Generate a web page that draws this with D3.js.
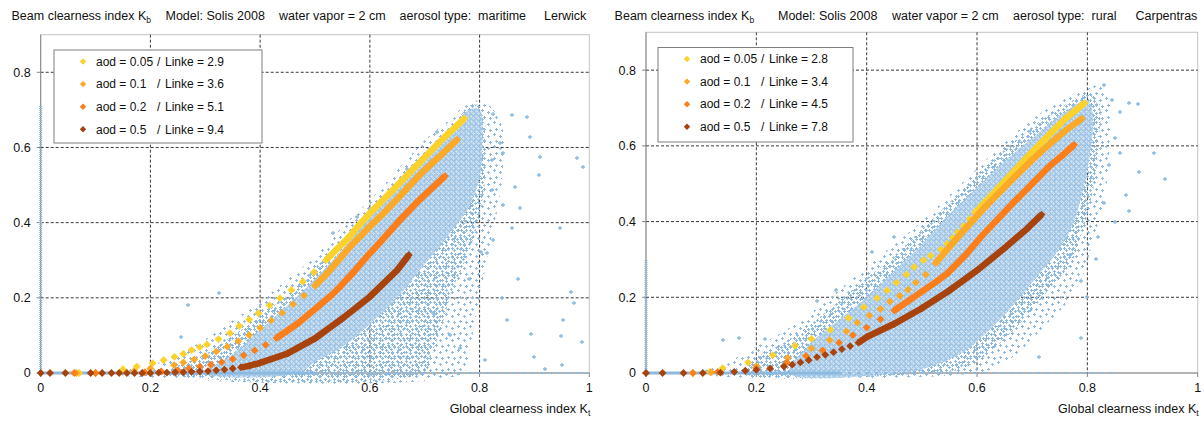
<!DOCTYPE html>
<html lang="en">
<head>
<meta charset="UTF-8">
<title>Beam clearness index vs global clearness index</title>
<script src="https://d3js.org/d3.v7.min.js"></script>
<style>
  body { margin: 0; background: #fff; }
  svg text { font-family: "Liberation Sans", Arial, sans-serif; fill: #111; white-space: pre; }
</style>
</head>
<body>
<svg id="chart" width="1204" height="423"></svg>
<script>
// ---- data ----
const ktTicks = [0, 0.2, 0.4, 0.6, 0.8, 1];
const kbTicks = [0, 0.2, 0.4, 0.6, 0.8];
const aodLabels = ["aod = 0.05", "aod = 0.1", "aod = 0.2", "aod = 0.5"];
const seriesColors = ["#fcd12a", "#fba927", "#fb7e1b", "#a8430d"];

const lerwickTitle = ["Model: Solis 2008", "water vapor = 2 cm", "aerosol type:  maritime", "Lerwick"];
const lerwickLinke = ["Linke = 2.9", "Linke = 3.6", "Linke = 5.1", "Linke = 9.4"];
const carpentrasTitle = ["Model: Solis 2008", "water vapor = 2 cm", "aerosol type:  rural", "Carpentras"];
const carpentrasLinke = ["Linke = 2.8", "Linke = 3.4", "Linke = 4.5", "Linke = 7.8"];

// model curves [Kt, Kb]
const lerwickAod005 = [[0.07,0],[0.15,0.01],[0.175,0.017],[0.204,0.026],[0.224,0.034],[0.244,0.043],[0.26,0.051],[0.275,0.061],[0.29,0.069],[0.303,0.076],[0.324,0.09],[0.345,0.106],[0.362,0.125],[0.38,0.142],[0.397,0.159],[0.417,0.18],[0.436,0.199],[0.457,0.221],[0.478,0.243],[0.498,0.268],[0.52,0.3],[0.54,0.33],[0.56,0.358],[0.58,0.393],[0.6,0.425],[0.62,0.455],[0.64,0.484],[0.66,0.514],[0.68,0.544],[0.7,0.574],[0.72,0.604],[0.74,0.633],[0.76,0.66],[0.772,0.677]];
const lerwickAod01 = [[0.065,0],[0.1,0],[0.17,0.005],[0.2,0.012],[0.243,0.021],[0.26,0.028],[0.28,0.036],[0.3,0.045],[0.32,0.057],[0.34,0.07],[0.36,0.085],[0.38,0.101],[0.4,0.12],[0.42,0.14],[0.44,0.16],[0.46,0.183],[0.48,0.206],[0.5,0.232],[0.52,0.262],[0.54,0.295],[0.564,0.336],[0.58,0.36],[0.6,0.39],[0.625,0.425],[0.65,0.463],[0.685,0.518],[0.7,0.54],[0.73,0.58],[0.759,0.621]];
const lerwickAod02 = [[0.061,0],[0.1,0],[0.19,0.002],[0.22,0.004],[0.25,0.007],[0.27,0.012],[0.29,0.017],[0.31,0.022],[0.33,0.029],[0.35,0.037],[0.37,0.047],[0.39,0.06],[0.41,0.075],[0.43,0.093],[0.45,0.113],[0.47,0.133],[0.49,0.158],[0.51,0.182],[0.53,0.207],[0.546,0.23],[0.57,0.268],[0.594,0.309],[0.62,0.35],[0.655,0.407],[0.69,0.46],[0.737,0.524]];
const lerwickAod05 = [[0,0],[0.017,0],[0.045,0],[0.091,0],[0.112,0],[0.129,0],[0.143,0],[0.157,0],[0.171,0],[0.185,0],[0.2,0],[0.215,0.001],[0.23,0.001],[0.245,0.002],[0.26,0.002],[0.275,0.003],[0.29,0.004],[0.305,0.005],[0.32,0.007],[0.335,0.009],[0.35,0.012],[0.365,0.015],[0.38,0.019],[0.4,0.027],[0.45,0.052],[0.5,0.092],[0.55,0.145],[0.6,0.203],[0.65,0.274],[0.671,0.314]];

const carpentrasAod005 = [[0.085,0],[0.116,0.003],[0.139,0.013],[0.185,0.028],[0.23,0.047],[0.27,0.072],[0.3,0.09],[0.334,0.114],[0.367,0.145],[0.395,0.174],[0.419,0.198],[0.437,0.218],[0.454,0.239],[0.472,0.26],[0.486,0.28],[0.503,0.298],[0.516,0.31],[0.535,0.326],[0.546,0.341],[0.556,0.357],[0.565,0.372],[0.576,0.388],[0.587,0.407],[0.596,0.423],[0.63,0.475],[0.67,0.538],[0.7,0.584],[0.731,0.63],[0.76,0.672],[0.795,0.713]];
const carpentrasAod01 = [[0.118,0.002],[0.2,0.018],[0.257,0.04],[0.3,0.065],[0.333,0.087],[0.363,0.11],[0.383,0.133],[0.405,0.152],[0.425,0.169],[0.442,0.189],[0.46,0.204],[0.475,0.22],[0.489,0.239],[0.507,0.26],[0.525,0.29],[0.547,0.328],[0.575,0.375],[0.608,0.428],[0.64,0.476],[0.67,0.52],[0.7,0.563],[0.731,0.604],[0.76,0.64],[0.79,0.672]];
const carpentrasAod02 = [[0.085,0],[0.13,0.003],[0.2,0.012],[0.255,0.028],[0.29,0.045],[0.32,0.06],[0.35,0.08],[0.375,0.1],[0.4,0.12],[0.425,0.142],[0.45,0.165],[0.475,0.19],[0.5,0.215],[0.525,0.24],[0.547,0.264],[0.58,0.313],[0.608,0.361],[0.64,0.41],[0.67,0.456],[0.7,0.5],[0.731,0.546],[0.755,0.575],[0.776,0.603]];
const carpentrasAod05 = [[0,0],[0.03,0],[0.068,0],[0.103,0],[0.135,0.001],[0.16,0.003],[0.18,0.006],[0.2,0.008],[0.225,0.012],[0.25,0.017],[0.265,0.022],[0.28,0.028],[0.295,0.034],[0.31,0.042],[0.325,0.048],[0.34,0.055],[0.355,0.063],[0.37,0.071],[0.385,0.08],[0.4,0.095],[0.45,0.13],[0.5,0.171],[0.55,0.218],[0.6,0.271],[0.65,0.33],[0.69,0.38],[0.717,0.4185]];

// Kt value from which the markers merge into a solid band
const lerwickSolidFrom = [0.5, 0.5, 0.42, 0.36];
const carpentrasSolidFrom = [0.59, 0.52, 0.45, 0.38];

// measured cloud outlines [Kt, Kb]: sparse fringe, medium band, dense core
const lerwickCloudSparse = [[0.12,0],[0.2,0.02],[0.25,0.05],[0.3,0.09],[0.35,0.14],[0.4,0.19],[0.45,0.25],[0.5,0.31],[0.55,0.39],[0.6,0.46],[0.65,0.54],[0.7,0.62],[0.75,0.68],[0.78,0.72],[0.81,0.72],[0.84,0.66],[0.84,0.5],[0.82,0.35],[0.8,0.2],[0.78,0.05],[0.77,0]];
const lerwickCloudMid = [[0.22,0],[0.25,0.02],[0.3,0.05],[0.35,0.1],[0.4,0.15],[0.45,0.21],[0.5,0.28],[0.55,0.35],[0.6,0.43],[0.65,0.5],[0.7,0.58],[0.75,0.65],[0.78,0.71],[0.8,0.71],[0.81,0.64],[0.81,0.52],[0.8,0.42],[0.78,0.32],[0.75,0.22],[0.73,0.12],[0.71,0.04],[0.7,0]];
const lerwickCloudCore = [[0.3,0],[0.35,0.05],[0.4,0.115],[0.45,0.18],[0.5,0.25],[0.55,0.33],[0.6,0.415],[0.65,0.49],[0.7,0.565],[0.75,0.645],[0.78,0.7],[0.8,0.7],[0.805,0.62],[0.8,0.52],[0.78,0.44],[0.74,0.36],[0.7,0.29],[0.65,0.2],[0.6,0.13],[0.55,0.07],[0.5,0.03],[0.47,0]];
const carpentrasCloudSparse = [[0.1,0],[0.15,0.03],[0.2,0.07],[0.25,0.11],[0.3,0.16],[0.35,0.22],[0.4,0.28],[0.45,0.34],[0.5,0.4],[0.55,0.47],[0.6,0.54],[0.65,0.61],[0.7,0.67],[0.75,0.72],[0.8,0.75],[0.82,0.76],[0.84,0.72],[0.84,0.6],[0.83,0.45],[0.81,0.35],[0.79,0.25],[0.76,0.18],[0.72,0.12],[0.68,0.06],[0.64,0.02],[0.6,0]];
const carpentrasCloudMid = [[0.18,0],[0.2,0.04],[0.25,0.08],[0.3,0.13],[0.35,0.19],[0.4,0.25],[0.45,0.31],[0.5,0.38],[0.55,0.45],[0.6,0.52],[0.65,0.59],[0.7,0.65],[0.75,0.7],[0.8,0.735],[0.82,0.72],[0.82,0.6],[0.81,0.48],[0.79,0.37],[0.77,0.29],[0.73,0.22],[0.69,0.15],[0.65,0.09],[0.61,0.04],[0.57,0.01],[0.52,0]];
const carpentrasCloudCore = [[0.26,0],[0.3,0.08],[0.35,0.14],[0.4,0.2],[0.45,0.27],[0.5,0.34],[0.55,0.42],[0.6,0.49],[0.65,0.56],[0.7,0.62],[0.75,0.68],[0.8,0.72],[0.81,0.68],[0.805,0.58],[0.79,0.47],[0.77,0.38],[0.74,0.31],[0.7,0.24],[0.66,0.17],[0.62,0.11],[0.58,0.06],[0.54,0.03],[0.5,0.01],[0.46,0]];

// scattered single observations [Kt, Kb]
const lerwickOutliers = [[0.967,0.216],[0.973,0.185],[0.952,0.141],[0.949,0.098],[0.987,0.083],[0.893,0.105],[0.9,0.043],[0.809,0.035],[0.802,0.323],[0.746,0.101],[0.764,0.066],[0.715,0.159],[0.825,0.69],[0.859,0.686],[0.886,0.682],[0.892,0.628],[0.91,0.575],[0.977,0.571],[0.989,0.549],[0.909,0.527],[0.865,0.496],[0.843,0.447],[0.874,0.438],[0.947,0.385],[0.859,0.385],[0.825,0.354],[0.813,0.318],[0.822,0.487],[0.843,0.584],[0.837,0.611],[0.822,0.567],[0.722,0.642],[0.667,0.544],[0.576,0.416],[0.533,0.372],[0.269,0.181],[0.325,0.212],[0.255,0.095],[0.87,0.25],[0.84,0.2],[0.78,0.25],[0.85,0.14],[0.95,0.02],[0.92,0.01]];
const carpentrasOutliers = [[0.875,0.713],[0.891,0.71],[0.921,0.58],[0.94,0.513],[0.894,0.531],[0.875,0.427],[0.769,0.313],[0.789,0.242],[0.789,0.092],[0.712,0.043],[0.83,0.76],[0.845,0.72],[0.86,0.69],[0.85,0.62],[0.86,0.58],[0.84,0.55],[0.87,0.47],[0.83,0.45],[0.85,0.4],[0.82,0.36],[0.815,0.3],[0.8,0.2],[0.139,0.087],[0.168,0.092],[0.215,0.09],[0.345,0.22],[0.31,0.19],[0.41,0.32],[0.45,0.36]];

// observations stuck on the axes: [dense Kt end, sparse Kt end, Kb top at Kt = 0]
const lerwickAxisPoints = [0.5, 1, 0.71];
const carpentrasAxisPoints = [0.35, 0.85, 0.3];

// ---- drawing ----
const svg = d3.select("#chart");
const dotColor = "#8bb9df";
const defs = svg.append("defs");

function plusPattern(id, size, spots, bg, spotColor) {
  const p = defs.append("pattern").attr("id", id)
    .attr("patternUnits", "userSpaceOnUse")
    .attr("width", size).attr("height", size);
  if (bg) p.append("rect").attr("width", size).attr("height", size).attr("fill", bg);
  spots.forEach(([sx, sy]) => {
    p.append("rect").attr("x", sx - 1).attr("y", sy).attr("width", 3).attr("height", 1).attr("fill", spotColor);
    p.append("rect").attr("x", sx).attr("y", sy - 1).attr("width", 1).attr("height", 3).attr("fill", spotColor);
  });
}
plusPattern("cloudSparse", 12, [[2, 2], [8, 4], [4, 9], [10, 10]], null, dotColor);
plusPattern("cloudMid", 9, [[1, 1], [5, 2], [2, 5], [7, 5], [4, 7]], null, dotColor);
plusPattern("cloudCore", 5, [[1, 1], [3, 3]], "#9fc5e5", "#c9def0");

function diamond(s) {
  return `M0,${-s}L${s},0L0,${s}L${-s},0Z`;
}

function drawPanel(p) {
  const x = d3.scaleLinear().domain([0, 1]).range([p.left, p.right]);
  const y = d3.scaleLinear().domain([0, 0.9]).range([p.bottom, p.top]);
  const g = svg.append("g");

  // plot border
  g.append("rect")
    .attr("x", p.left).attr("y", p.top)
    .attr("width", p.right - p.left).attr("height", p.bottom - p.top)
    .attr("fill", "none").attr("stroke", "#c4c4c4");

  // dashed grid
  g.selectAll(".vgrid").data(ktTicks.slice(1, -1)).enter().append("line")
    .attr("x1", d => x(d)).attr("x2", d => x(d))
    .attr("y1", p.top).attr("y2", p.bottom)
    .attr("stroke", "#3a3a3a").attr("stroke-dasharray", "3,2");
  g.selectAll(".hgrid").data(kbTicks.slice(1)).enter().append("line")
    .attr("x1", p.left).attr("x2", p.right)
    .attr("y1", d => y(d)).attr("y2", d => y(d))
    .attr("stroke", "#3a3a3a").attr("stroke-dasharray", "3,2");

  // axes
  g.append("line").attr("x1", p.left).attr("x2", p.left).attr("y1", p.top).attr("y2", p.bottom).attr("stroke", "#868686");
  g.append("line").attr("x1", p.left).attr("x2", p.right).attr("y1", p.bottom).attr("y2", p.bottom).attr("stroke", "#868686");
  g.selectAll(".ytick").data(kbTicks).enter().append("line")
    .attr("x1", p.left - 4).attr("x2", p.left)
    .attr("y1", d => y(d)).attr("y2", d => y(d)).attr("stroke", "#868686");
  g.selectAll(".xtick").data(ktTicks).enter().append("line")
    .attr("x1", d => x(d)).attr("x2", d => x(d))
    .attr("y1", p.bottom).attr("y2", p.bottom + 4).attr("stroke", "#868686");

  g.selectAll(".ylab").data(kbTicks).enter().append("text")
    .attr("x", p.left - 10).attr("y", d => y(d)).attr("dy", "0.35em")
    .attr("text-anchor", "end").attr("font-size", 12.5)
    .text(d => d3.format("")(d));
  g.selectAll(".xlab").data(ktTicks).enter().append("text")
    .attr("x", d => x(d)).attr("y", 392)
    .attr("text-anchor", "middle").attr("font-size", 12.5)
    .text(d => d3.format("")(d));

  // observation cloud
  const outline = d3.line().x(d => x(d[0])).y(d => y(d[1])).curve(d3.curveCatmullRomClosed);
  g.append("path").attr("d", outline(p.cloudSparse)).attr("fill", "url(#cloudSparse)");
  g.append("path").attr("d", outline(p.cloudMid)).attr("fill", "url(#cloudMid)");
  g.append("path").attr("d", outline(p.cloudCore)).attr("fill", "url(#cloudCore)").attr("opacity", 0.95);

  const [denseEnd, sparseEnd, colTop] = p.axisPoints;
  g.append("line").attr("x1", x(0)).attr("x2", x(denseEnd)).attr("y1", y(0)).attr("y2", y(0))
    .attr("stroke", dotColor).attr("stroke-width", 3);
  g.append("line").attr("x1", x(denseEnd)).attr("x2", x(sparseEnd)).attr("y1", y(0)).attr("y2", y(0))
    .attr("stroke", dotColor).attr("stroke-width", 2).attr("stroke-dasharray", "3,6");
  g.append("line").attr("x1", x(0)).attr("x2", x(0)).attr("y1", y(0)).attr("y2", y(colTop))
    .attr("stroke", dotColor).attr("stroke-width", 3).attr("stroke-dasharray", "1,1");

  g.selectAll(".out").data(p.outliers).enter().append("path")
    .attr("transform", d => `translate(${Math.round(x(d[0]))},${Math.round(y(d[1]))})`)
    .attr("d", "M-2,0H2M0,-2V2")
    .attr("stroke", dotColor).attr("stroke-width", 1.3);

  // model curves
  p.series.forEach((pts, i) => {
    const color = seriesColors[i];
    const solid = pts.filter(d => d[0] >= p.solidFrom[i]);
    g.append("path")
      .attr("d", d3.line().x(d => x(d[0])).y(d => y(d[1]))(solid))
      .attr("fill", "none").attr("stroke", color).attr("stroke-width", 6.5);
    g.selectAll(null).data(pts).enter().append("path")
      .attr("transform", d => `translate(${x(d[0])},${y(d[1])})`)
      .attr("d", diamond(3.9)).attr("fill", color);
  });

  // legend
  const lg = g.append("g");
  lg.append("rect").attr("x", p.legend.x).attr("y", p.legend.y)
    .attr("width", p.legend.w).attr("height", p.legend.h)
    .attr("fill", "#fff").attr("stroke", "#7f7f7f");
  aodLabels.forEach((lab, i) => {
    const cy = p.legend.y + 11.5 + i * 22.6;
    lg.append("path").attr("transform", `translate(${p.legend.x + 29},${cy})`)
      .attr("d", diamond(3.2)).attr("fill", seriesColors[i]);
    lg.append("text").attr("x", p.legend.x + 42).attr("y", cy).attr("dy", "0.35em")
      .attr("font-size", 12).text(lab);
    lg.append("text").attr("x", p.legend.x + 103).attr("y", cy).attr("dy", "0.35em")
      .attr("font-size", 12).text("/");
    lg.append("text").attr("x", p.legend.x + 111).attr("y", cy).attr("dy", "0.35em")
      .attr("font-size", 12).text(p.linke[i]);
  });

  // heading line
  const t0 = g.append("text").attr("x", p.titleX[0]).attr("y", 20).attr("font-size", 12.5);
  t0.append("tspan").text("Beam clearness index K");
  t0.append("tspan").attr("font-size", 8.5).attr("dy", 3).text("b");
  p.title.forEach((s, i) => {
    g.append("text").attr("x", p.titleX[i + 1]).attr("y", 20).attr("font-size", 12.5).text(s);
  });

  // x axis title
  const xt = g.append("text").attr("x", p.right + 1).attr("y", 413)
    .attr("text-anchor", "end").attr("font-size", 12.5);
  xt.append("tspan").text("Global clearness index K");
  xt.append("tspan").attr("font-size", 8.5).attr("dy", 3).text("t");
}

drawPanel({
  left: 40.7, right: 589.3, top: 34.7, bottom: 373,
  series: [lerwickAod005, lerwickAod01, lerwickAod02, lerwickAod05],
  solidFrom: lerwickSolidFrom,
  cloudSparse: lerwickCloudSparse, cloudMid: lerwickCloudMid, cloudCore: lerwickCloudCore,
  outliers: lerwickOutliers, axisPoints: lerwickAxisPoints,
  linke: lerwickLinke, title: lerwickTitle,
  titleX: [11.5, 165.5, 279, 399.6, 544],
  legend: { x: 54, y: 50, w: 208, h: 93 }
});
drawPanel({
  left: 646, right: 1197.7, top: 32.3, bottom: 373,
  series: [carpentrasAod005, carpentrasAod01, carpentrasAod02, carpentrasAod05],
  solidFrom: carpentrasSolidFrom,
  cloudSparse: carpentrasCloudSparse, cloudMid: carpentrasCloudMid, cloudCore: carpentrasCloudCore,
  outliers: carpentrasOutliers, axisPoints: carpentrasAxisPoints,
  linke: carpentrasLinke, title: carpentrasTitle,
  titleX: [614.6, 778, 892, 1013, 1135.5],
  legend: { x: 658, y: 47.5, w: 195, h: 94.5 }
});
</script>
</body>
</html>
